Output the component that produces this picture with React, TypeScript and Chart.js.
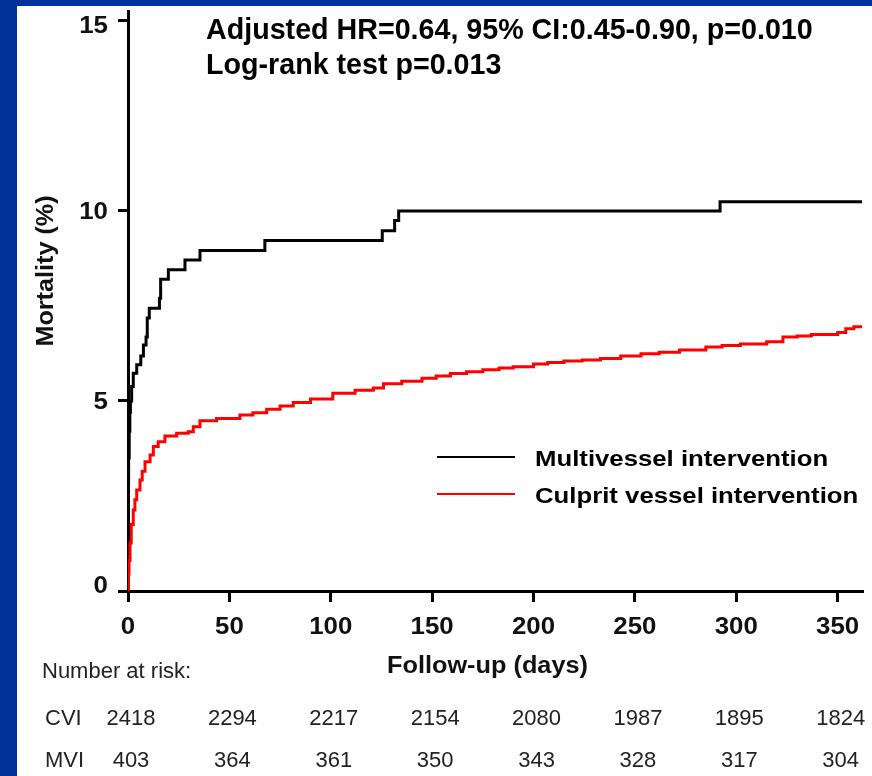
import React, { useEffect, useRef } from 'react';
import { Chart, registerables } from 'chart.js';

Chart.register(...registerables);

const W = 872;
const H = 776;
const FONT = "'Liberation Sans', Arial, Helvetica, sans-serif";
const BLUE = '#003399';

// Axis ticks
const xTicks = [0, 50, 100, 150, 200, 250, 300, 350];
const yTicks = [0, 5, 10, 15];
const X_MAX = 362;
const Y_MAX = 15.26;

// Kaplan-Meier cumulative mortality (%) — multivessel intervention (MVI)
const mviDays = [0, 0, 0.3, 0.6, 0.9, 1.2, 1.8, 2.6, 4.3, 6.3, 7.6, 8.9, 9.5, 10.5, 15.5, 16.1, 19.9, 28.1, 35.5, 67.5, 125.4, 131.5, 133.5, 292, 362];
const mviMortality = [0, 2.9, 3.5, 4.2, 4.7, 5.0, 5.38, 5.73, 5.95, 6.18, 6.47, 6.68, 7.18, 7.44, 7.7, 8.2, 8.45, 8.71, 8.96, 9.22, 9.48, 9.75, 10.0, 10.24, 10.24];

// Kaplan-Meier cumulative mortality (%) — culprit vessel intervention (CVI)
const cviDays = [0, 0.2, 0.5, 1.0, 1.6, 2.6, 3.4, 4.3, 5.9, 7.0, 8.4, 10.9, 12.5, 14.9, 18.2, 24.0, 29.7, 32.2, 35.5, 43.7, 55.2, 61.6, 68.4, 75.0, 81.5, 90, 101, 112, 121, 126, 135, 145, 152, 159, 167, 175, 183, 190, 200, 207, 215, 224, 233, 243, 253, 262, 272, 285, 293, 302, 315, 323, 330, 337, 350, 354, 358, 362];
const cviMortality = [0, 0.45, 0.8, 1.26, 1.75, 2.13, 2.4, 2.66, 2.92, 3.15, 3.4, 3.58, 3.8, 3.93, 4.08, 4.15, 4.19, 4.32, 4.48, 4.54, 4.63, 4.69, 4.78, 4.87, 4.96, 5.05, 5.2, 5.28, 5.34, 5.45, 5.52, 5.6, 5.66, 5.72, 5.77, 5.82, 5.87, 5.9, 5.97, 6.01, 6.05, 6.08, 6.12, 6.18, 6.24, 6.28, 6.34, 6.42, 6.46, 6.5, 6.56, 6.68, 6.71, 6.75, 6.8, 6.9, 6.95, 6.97];

// Number at risk table
const riskDays = [0, 50, 100, 150, 200, 250, 300, 350];
const cviAtRisk = [2418, 2294, 2217, 2154, 2080, 1987, 1895, 1824];
const mviAtRisk = [403, 364, 361, 350, 343, 328, 317, 304];

const seriesLabels = ['Multivessel intervention', 'Culprit vessel intervention'];
const seriesColors = ['#000000', '#ff0000'];
const statLines = ['Adjusted HR=0.64, 95% CI:0.45-0.90, p=0.010', 'Log-rank test p=0.013'];
const yTitle = 'Mortality (%)';
const xTitle = 'Follow-up (days)';
const riskTitle = 'Number at risk:';
const riskRowLabels = ['CVI', 'MVI'];

type TextOpts = {
  size: number;
  weight?: string;
  sx?: number;
  align?: CanvasTextAlign;
  baseline?: CanvasTextBaseline;
  rot?: number;
  color?: string;
};

function drawText(ctx: CanvasRenderingContext2D, text: string, x: number, y: number, o: TextOpts) {
  ctx.save();
  ctx.translate(x, y);
  if (o.rot) ctx.rotate(o.rot);
  ctx.scale(o.sx ?? 1, 1);
  ctx.font = `${o.weight ?? 'normal'} ${o.size}px ${FONT}`;
  ctx.textAlign = o.align ?? 'left';
  ctx.textBaseline = o.baseline ?? 'alphabetic';
  ctx.fillStyle = o.color ?? '#000';
  ctx.fillText(text, 0, 0);
  ctx.restore();
}

const backgroundPlugin = {
  id: 'slideBackground',
  beforeDraw(chart: any) {
    const ctx: CanvasRenderingContext2D = chart.ctx;
    ctx.save();
    ctx.fillStyle = BLUE;
    ctx.fillRect(0, 0, W, H);
    ctx.fillStyle = '#ffffff';
    ctx.fillRect(17, 6, W - 17, H - 6);
    ctx.restore();
  },
};

// small inward nudge of the end labels on the value axis
const yLabelNudge = [-6, 0, 0, 4];

const annotationPlugin = {
  id: 'kmAnnotations',
  afterDraw(chart: any) {
    const ctx: CanvasRenderingContext2D = chart.ctx;
    const xs = chart.scales.x;
    const ys = chart.scales.y;
    const left = chart.chartArea.left;

    // tick labels
    yTicks.forEach((v, i) => {
      drawText(ctx, String(v), left - 20, ys.getPixelForValue(v) + 8 + yLabelNudge[i], {
        size: 23.5, weight: 'bold', sx: 1.1, align: 'right', color: '#111',
      });
    });
    xTicks.forEach((v) => {
      drawText(ctx, String(v), xs.getPixelForValue(v), 633.5, {
        size: 23.5, weight: 'bold', sx: 1.1, align: 'center', color: '#111',
      });
    });

    // axis titles
    drawText(ctx, yTitle, 53, 271, { size: 24, weight: 'bold', sx: 1.05, align: 'center', rot: -Math.PI / 2, color: '#111' });
    drawText(ctx, xTitle, 487.5, 673, { size: 23, weight: 'bold', sx: 1.1, align: 'center', color: '#111' });

    // statistics
    drawText(ctx, statLines[0], 206, 39, { size: 30, weight: 'bold', sx: 0.955 });
    drawText(ctx, statLines[1], 206, 74, { size: 30, weight: 'bold', sx: 0.955 });

    // legend
    const legendY = [457, 494];
    seriesLabels.forEach((label, i) => {
      ctx.save();
      ctx.strokeStyle = seriesColors[i];
      ctx.lineWidth = 2;
      ctx.beginPath();
      ctx.moveTo(437, legendY[i]);
      ctx.lineTo(515, legendY[i]);
      ctx.stroke();
      ctx.restore();
      drawText(ctx, label, 535, legendY[i] + 9, { size: 22, weight: 'bold', sx: 1.17 });
    });

    // number at risk
    drawText(ctx, riskTitle, 42, 678, { size: 22, color: '#222' });
    const rows = [cviAtRisk, mviAtRisk];
    const rowY = [725, 767];
    rows.forEach((vals, r) => {
      drawText(ctx, riskRowLabels[r], 45, rowY[r], { size: 22, color: '#222' });
      vals.forEach((n, i) => {
        drawText(ctx, String(n), xs.getPixelForValue(riskDays[i]) + 3, rowY[r], { size: 22, align: 'center', color: '#222' });
      });
    });
  },
};

export default function App() {
  const ref = useRef<HTMLCanvasElement | null>(null);

  useEffect(() => {
    if (!ref.current) return;
    const axisGrid = {
      display: true,
      drawOnChartArea: false,
      drawTicks: true,
      color: '#000',
      lineWidth: 3,
    };
    const chart = new Chart(ref.current, {
      type: 'line',
      data: {
        datasets: [
          {
            label: seriesLabels[1],
            data: cviDays.map((d, i) => ({ x: d, y: cviMortality[i] })),
            borderColor: seriesColors[1],
            borderWidth: 3,
            stepped: true,
            pointRadius: 0,
            fill: false,
          },
          {
            label: seriesLabels[0],
            data: mviDays.map((d, i) => ({ x: d, y: mviMortality[i] })),
            borderColor: seriesColors[0],
            borderWidth: 3,
            stepped: true,
            pointRadius: 0,
            fill: false,
          },
        ],
      },
      options: {
        responsive: false,
        animation: false,
        devicePixelRatio: 1,
        layout: { padding: { left: 0, right: 10, top: 11, bottom: 125 } },
        plugins: {
          legend: { display: false },
          tooltip: { enabled: false },
          title: { display: false },
        },
        scales: {
          x: {
            type: 'linear',
            min: 0,
            max: X_MAX,
            grid: { ...axisGrid, tickLength: 11 },
            border: { display: true, color: '#000', width: 3 },
            ticks: { display: false },
            afterBuildTicks: (s: any) => { s.ticks = xTicks.map((v) => ({ value: v })); },
            afterFit: (s: any) => { s.height = 60; },
          },
          y: {
            type: 'linear',
            min: 0,
            max: Y_MAX,
            grid: { ...axisGrid, tickLength: 10 },
            border: { display: true, color: '#000', width: 3 },
            ticks: { display: false },
            afterBuildTicks: (s: any) => { s.ticks = yTicks.map((v) => ({ value: v })); },
            afterFit: (s: any) => { s.width = 128; },
          },
        },
      } as any,
      plugins: [backgroundPlugin, annotationPlugin],
    });
    return () => chart.destroy();
  }, []);

  return (
    <div style={{ position: 'fixed', left: 0, top: 0, width: W, height: H }}>
      <canvas ref={ref} width={W} height={H} style={{ display: 'block', width: W, height: H }} />
    </div>
  );
}
